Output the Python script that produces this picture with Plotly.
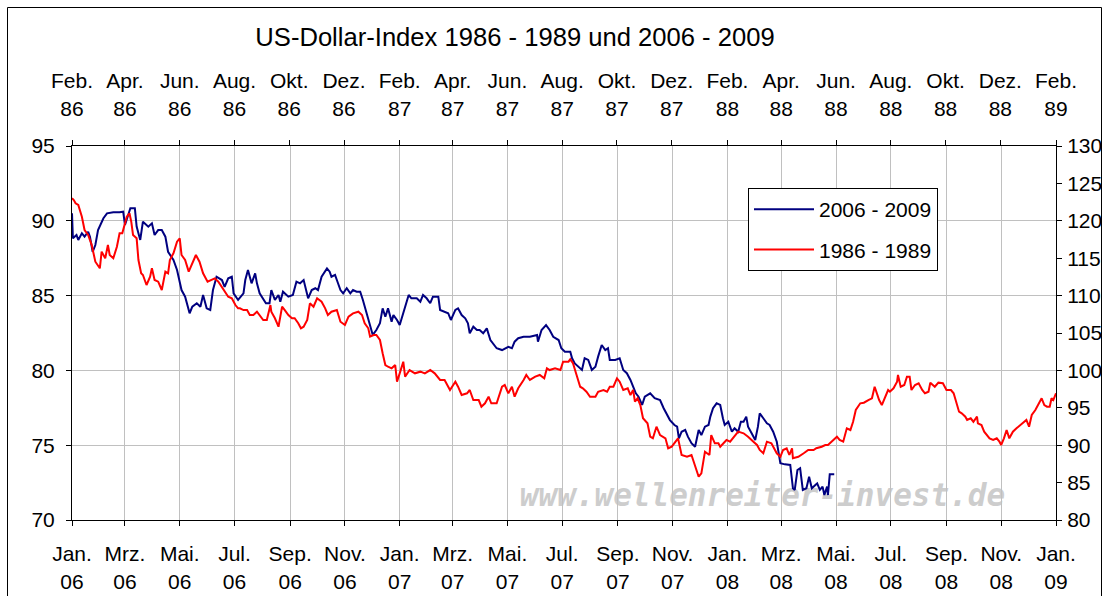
import pandas as pd
import plotly.graph_objects as go

# ---------------- data ----------------
# US-Dollar-Index 2006-2009 (left axis), day offsets from 2006-01-01
days_2006 = [0,1,5,7,11,14,18,20,23,26,29,35,39,46,53,57,59,63,65,70,
             72,76,79,85,89,92,96,100,104,107,113,117,122,126,131,134,139,143,146,150,
             154,157,161,167,170,174,178,180,185,191,193,196,198,200,204,206,209,213,216,220,
             222,226,230,232,235,241,246,250,254,258,260,263,267,271,274,278,284,287,289,293,
             295,299,302,306,310,313,317,321,324,328,332,335,339,343,346,349,352,356,358,362,365,
             369,371,375,378,384,388,391,395,399,402,408,410,415,419,422,427,430,434,438,441,443,
             447,451,454,458,462,466,469,473,479,482,486,490,493,497,503,510,518,519,523,528,532,536,542,
             545,549,555,557,560,564,568,571,575,579,583,586,590,594,597,599,605,610,614,618,622,625,628,631,
             635,638,644,649,655,659,662,666,671,674,676,679,683,686,690,694,698,701,705,709,711,714,718,722,
             725,727,731,735,738,742,745,748,751,753,757,761,764,766,770,774,777,781,785,789,794,800,
             803,805,808,811,814,818,821,824,828,830,833,836,838,841,842,844,849]
usd_2006 = [90.50,88.83,89.05,88.72,89.16,88.94,89.27,88.94,87.93,88.38,89.38,90.17,90.50,90.57,90.57,90.61,89.72,90.50,90.84,90.84,
            89.61,88.72,89.94,89.61,89.83,89.05,89.38,89.38,88.94,87.93,87.38,86.71,85.37,84.93,83.82,84.26,84.49,84.26,85.04,84.15,
            84.04,85.37,86.26,86.04,85.59,86.16,86.26,85.15,84.71,85.15,86.04,86.71,86.26,85.82,86.49,85.82,85.15,84.82,84.49,84.49,
            85.37,84.71,85.04,84.59,85.26,84.93,85.04,85.93,85.82,86.04,85.59,84.82,85.37,85.49,85.37,86.26,86.82,86.60,86.26,86.38,
            86.04,85.37,85.15,85.49,85.15,85.37,85.26,85.26,84.71,83.82,82.92,82.37,82.70,83.15,84.15,83.59,84.15,83.26,83.70,83.37,83.03,
            83.82,84.37,85.04,84.82,84.82,84.59,85.04,84.82,84.49,84.93,84.93,84.04,83.92,83.82,83.37,84.04,84.15,83.70,83.48,83.15,82.48,
            82.92,82.70,82.70,82.48,82.81,82.03,81.81,81.48,81.36,81.48,81.58,81.48,81.92,82.15,82.25,82.25,82.37,81.92,82.70,83.03,82.70,82.25,82.03,
            81.48,81.25,81.25,80.81,80.47,80.25,80.03,80.81,80.70,80.03,80.25,80.92,81.70,81.36,81.48,80.70,80.70,80.81,80.03,79.81,79.36,78.91,78.47,78.24,
            77.69,78.24,78.47,78.14,78.02,77.47,77.13,76.68,76.35,76.24,75.46,75.90,76.02,75.57,75.13,74.90,76.02,75.68,76.24,76.35,76.91,77.47,77.80,77.69,
            76.80,76.35,76.57,75.90,76.13,75.90,76.57,76.57,76.91,76.24,75.80,75.35,76.24,77.13,76.80,76.46,76.35,75.90,75.23,73.79,73.72,73.68,
            72.12,72.01,73.34,73.46,72.01,72.12,72.89,72.12,72.34,72.45,72.01,72.23,71.67,72.23,71.67,73.05,73.05]

# US-Dollar-Index 1986-1989 (right axis), day offsets from 1986-02-01
days_1986 = [0,2,4,7,11,14,18,22,26,29,31,33,37,40,42,46,50,53,56,61,
             64,66,68,72,74,77,79,83,87,89,92,96,100,104,107,109,113,117,120,122,
             126,130,133,138,142,146,151,156,159,163,167,170,174,178,182,185,187,191,195,198,
             202,206,209,213,217,221,222,226,230,234,237,241,245,248,252,255,258,262,265,269,
             273,278,282,285,289,295,299,304,308,313,319,323,326,330,332,336,339,343,346,349,
             352,356,360,362,365,369,371,376,382,388,393,399,404,410,415,421,427,430,434,440,
             443,447,453,456,460,464,467,473,479,482,486,490,493,497,503,506,510,516,521,526,
             529,532,538,544,547,553,555,558,562,566,569,573,577,583,586,592,596,599,603,607,
             610,614,619,622,625,627,630,633,636,641,644,647,651,655,661,664,668,675,679,685,
             690,694,698,701,705,710,712,716,720,722,729,733,737,742,748,753,759,763,766,770,
             774,779,785,789,792,796,799,802,803,809,815,820,826,829,835,839,842,848,852,855,
             859,863,867,870,873,878,882,887,891,894,896,899,902,906,909,911,915,919,920,923,
             927,930,933,935,939,943,947,950,954,956,961,965,970,974,979,982,985,988,991,995,
             997,1001,1004,1008,1009,1013,1016,1019,1022,1026,1030,1033,1035,1038,1041,1044,1048,1052,1056,1060,
             1063,1066,1069,1073,1076,1080,1083,1086,1089,1091,1093,1096]
usd_1986 = [123.01,122.78,122.34,122.11,120.55,118.77,118.10,116.76,114.53,114.09,113.65,115.87,114.99,116.76,115.43,114.99,116.54,118.33,118.33,120.55,
            121.00,119.88,118.10,117.66,114.76,112.98,112.75,111.42,112.53,113.65,112.09,111.86,110.75,113.20,112.98,114.76,115.66,117.21,117.66,115.43,
            114.76,113.20,114.09,115.43,114.53,112.98,111.86,112.09,112.31,111.86,111.19,110.52,109.85,109.64,108.74,108.30,108.30,108.07,108.07,107.41,
            107.41,107.85,107.41,106.74,106.74,108.74,107.85,106.97,105.84,108.52,108.07,107.41,106.97,106.97,106.30,105.63,105.84,106.74,108.97,108.52,
            109.64,109.18,108.30,107.41,107.85,108.07,106.51,106.07,107.18,107.63,107.85,107.41,106.30,105.63,104.51,104.73,104.73,104.06,102.29,100.72,
            100.49,100.28,100.72,98.49,99.61,101.16,99.16,100.05,99.61,99.83,99.61,100.05,99.61,98.72,98.72,97.38,98.49,97.82,96.71,96.94,
            97.38,96.04,96.04,95.15,95.60,96.48,95.60,95.60,97.82,98.05,96.94,97.82,96.48,97.61,98.72,99.39,98.72,99.16,99.39,98.94,
            100.28,100.05,100.28,100.05,101.16,101.16,101.48,100.95,99.39,97.82,97.61,97.15,96.48,96.48,97.15,97.38,97.15,97.82,97.82,98.94,
            98.49,97.38,97.61,96.71,97.38,95.82,96.27,95.37,93.60,92.93,91.14,90.92,92.47,91.36,90.92,89.59,89.80,90.92,88.69,88.46,
            88.69,87.35,85.79,86.24,89.13,88.69,91.36,90.25,90.25,89.80,90.70,90.47,91.14,91.81,91.59,91.14,90.47,90.03,89.36,88.92,
            90.47,90.25,88.92,88.46,89.36,89.59,88.69,89.59,88.25,88.46,88.92,89.36,89.36,89.59,89.80,90.03,90.03,90.70,91.14,90.70,
            90.47,92.26,92.03,93.14,94.71,95.60,95.68,96.04,96.27,97.82,97.15,96.04,95.37,96.48,97.38,97.15,97.61,98.49,99.39,97.82,
            98.05,99.16,99.16,97.38,98.05,98.28,97.38,96.94,97.15,98.36,97.82,98.36,98.28,97.38,97.38,96.94,95.82,94.48,94.26,93.81,
            93.37,93.60,93.14,93.81,92.93,92.70,91.81,91.36,90.92,90.70,90.92,90.47,90.03,90.92,92.03,90.92,91.81,92.26,92.70,93.14,
            93.37,92.47,94.04,94.71,95.37,96.27,95.37,95.15,95.15,96.27,96.04,96.94]

assert len(days_2006) == len(usd_2006)
assert len(days_1986) == len(usd_1986)

series_names = ["2006 - 2009", "1986 - 1989"]

bottom_tickvals = ["2006-01-01","2006-03-01","2006-05-01","2006-07-01","2006-09-01","2006-11-01",
                   "2007-01-01","2007-03-01","2007-05-01","2007-07-01","2007-09-01","2007-11-01",
                   "2008-01-01","2008-03-01","2008-05-01","2008-07-01","2008-09-01","2008-11-01",
                   "2009-01-01"]
bottom_ticktext = ["Jan.<br>06","Mrz.<br>06","Mai.<br>06","Jul.<br>06","Sep.<br>06","Nov.<br>06",
                   "Jan.<br>07","Mrz.<br>07","Mai.<br>07","Jul.<br>07","Sep.<br>07","Nov.<br>07",
                   "Jan.<br>08","Mrz.<br>08","Mai.<br>08","Jul.<br>08","Sep.<br>08","Nov.<br>08",
                   "Jan.<br>09"]
top_tickvals = ["1986-02-01","1986-04-01","1986-06-01","1986-08-01","1986-10-01","1986-12-01",
                "1987-02-01","1987-04-01","1987-06-01","1987-08-01","1987-10-01","1987-12-01",
                "1988-02-01","1988-04-01","1988-06-01","1988-08-01","1988-10-01","1988-12-01",
                "1989-02-01"]
top_ticktext = ["Feb.<br>86","Apr.<br>86","Jun.<br>86","Aug.<br>86","Okt.<br>86","Dez.<br>86",
                "Feb.<br>87","Apr.<br>87","Jun.<br>87","Aug.<br>87","Okt.<br>87","Dez.<br>87",
                "Feb.<br>88","Apr.<br>88","Jun.<br>88","Aug.<br>88","Okt.<br>88","Dez.<br>88",
                "Feb.<br>89"]
left_ticks = [70, 75, 80, 85, 90, 95]
right_ticks = [80, 85, 90, 95, 100, 105, 110, 115, 120, 125, 130]

title_text = "US-Dollar-Index 1986 - 1989 und 2006 - 2009"
watermark_text = "www.wellenreiter-invest.de"

# ---------------- figure ----------------
W, H = 1109, 596
L, R, T, B = 72, 1056, 146, 520  # plot area in px


def px_x(px):
    return (px - L) / (R - L)


def px_y(py):
    return (B - py) / (B - T)


dates_2006 = pd.Timestamp("2006-01-01") + pd.to_timedelta(days_2006, unit="D")
dates_1986 = pd.Timestamp("1986-02-01") + pd.to_timedelta(days_1986, unit="D")

FONT = "Liberation Sans, Arial, sans-serif"

fig = go.Figure()
fig.add_trace(go.Scatter(x=dates_2006, y=usd_2006, name=series_names[0], mode="lines",
                         line=dict(color="#000080", width=2), xaxis="x", yaxis="y",
                         legendgroup="a"))
fig.add_trace(go.Scatter(x=dates_1986, y=usd_1986, name=series_names[1], mode="lines",
                         line=dict(color="#ff0000", width=2), xaxis="x2", yaxis="y2",
                         legendgroup="b"))

axis_common = dict(showline=True, linecolor="black", linewidth=1, ticks="outside",
                   ticklen=5, tickcolor="black", tickwidth=1, automargin=False,
                   tickfont=dict(family=FONT, size=21, color="black"), zeroline=False)

fig.update_layout(
    width=W, height=H, autosize=False,
    margin=dict(l=L, r=W - R, t=T, b=H - B, pad=0, autoexpand=False),
    paper_bgcolor="white", plot_bgcolor="rgba(0,0,0,0)",
    font=dict(family=FONT, size=21, color="black"),
    title=dict(text=title_text, x=515 / W, xanchor="center", xref="container",
               y=1 - 37 / H, yanchor="middle", yref="container",
               font=dict(family=FONT, size=25.6, color="black")),
    xaxis=dict(type="date", range=["2006-01-01", "2009-01-01"], tickmode="array",
               tickvals=bottom_tickvals, ticktext=bottom_ticktext, showgrid=True,
               gridcolor="#c0c0c0", gridwidth=1, anchor="y", side="bottom",
               ticklabelstandoff=10, **axis_common),
    xaxis2=dict(type="date", range=["1986-02-01", "1989-02-01"], tickmode="array",
                tickvals=top_tickvals, ticktext=top_ticktext, showgrid=False,
                overlaying="x", side="top", anchor="y2", ticklabelstandoff=16,
                **axis_common),
    yaxis=dict(range=[70, 95], tickmode="array", tickvals=left_ticks, showgrid=True,
               gridcolor="#c0c0c0", gridwidth=1, anchor="x", side="left",
               ticklabelstandoff=7, **axis_common),
    yaxis2=dict(range=[80, 130], tickmode="array", tickvals=right_ticks, showgrid=False,
                overlaying="y", side="right", anchor="x2", ticklabelstandoff=1,
                **axis_common),
    legend=dict(x=px_x(748), y=px_y(188), xanchor="left", yanchor="top",
                bgcolor="white", bordercolor="black", borderwidth=1,
                font=dict(family=FONT, size=21, color="black"),
                itemwidth=60, tracegroupgap=10, traceorder="grouped"),
    showlegend=True,
)

# outer chart frame
fig.add_shape(type="rect", xref="paper", yref="paper",
              x0=px_x(7.5), x1=px_x(1101.5), y0=px_y(640), y1=px_y(7.5),
              line=dict(color="black", width=1), fillcolor="rgba(0,0,0,0)", layer="above")

# watermark (below the data lines)
fig.add_shape(type="rect", xref="paper", yref="paper",
              x0=px_x(500), x1=px_x(1025), y0=px_y(512), y1=px_y(474),
              line=dict(width=0), fillcolor="rgba(0,0,0,0)", layer="below",
              label=dict(text=watermark_text, textposition="middle center",
                         font=dict(family="DejaVu Sans Mono", size=31, color="#cdcdcd",
                                   style="italic", weight="bold")))

# the page holds only the figure: no body margin around the plot div
page_reset = ("document.documentElement.style.margin='0';"
              "document.body.style.margin='0';"
              "document.body.style.overflow='hidden';")
fig.write_html("out.html", config={"displayModeBar": False}, post_script=page_reset)
